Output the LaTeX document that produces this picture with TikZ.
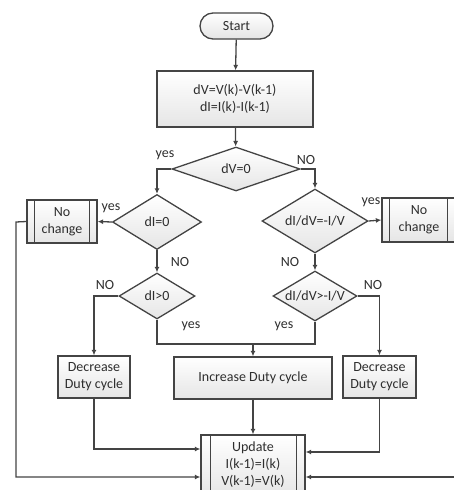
\documentclass[tikz,border=0pt]{standalone}
\usepackage{fontspec}
\setmainfont{Carlito}
\usetikzlibrary{shapes.geometric,arrows.meta}
\definecolor{ln}{HTML}{444444}
\definecolor{tx}{HTML}{2E2E2E}
\begin{document}
\begin{tikzpicture}[x=1pt,y=-1pt,
  every node/.style={font=\fontsize{14}{17}\selectfont, text=tx},
  box/.style={draw=ln, line width=1.3pt, top color=white, bottom color=gray!20, inner sep=0pt, align=center},
  dec/.style={box, diamond, aspect=2, inner sep=-4pt},
  lbl/.style={font=\fontsize{14}{15}\selectfont, text=tx},
  ar/.style={draw=ln, line width=1.3pt, -{Latex[length=5.5pt,width=5pt]}},
  ln/.style={draw=ln, line width=1.3pt}
]
\useasboundingbox (0,0) rectangle (454,490);
\clip (0,0) rectangle (454,490);
% nodes
\node[box, rounded corners=13pt, minimum width=73pt, minimum height=26pt] (start) at (236.5,26) {Start};
\node[box, minimum width=156pt, minimum height=56pt] (calc) at (235,99) {dV=V(k)-V(k-1)\\dI=I(k)-I(k-1)};
\node[dec, minimum width=128pt, minimum height=44pt] (d1) at (236,169) {dV=0};
\node[dec, minimum width=89pt, minimum height=55pt] (d2) at (157,222) {dI=0};
\node[dec, minimum width=106pt, minimum height=64pt] (d3) at (315,221) {dI/dV=-I/V};
\node[dec, minimum width=76pt, minimum height=46pt] (d4) at (157,296) {dI>0};
\node[dec, minimum width=84pt, minimum height=50pt] (d5) at (315,296) {dI/dV>-I/V};
\node[box, minimum width=70pt, minimum height=43pt] (ncl) at (62,221.5) {No\\change};
\draw[ln] ([xshift=8pt]ncl.north west) -- ([xshift=8pt]ncl.south west);
\draw[ln] ([xshift=-8pt]ncl.north east) -- ([xshift=-8pt]ncl.south east);
\node[box, minimum width=74pt, minimum height=44pt] (ncr) at (419,220) {No\\change};
\draw[ln] ([xshift=8pt]ncr.north west) -- ([xshift=8pt]ncr.south west);
\draw[ln] ([xshift=-9pt]ncr.north east) -- ([xshift=-9pt]ncr.south east);
\node[box, minimum width=72pt, minimum height=42pt] (decl) at (94,377) {Decrease\\Duty cycle};
\node[box, minimum width=158pt, minimum height=42pt] (inc) at (253,378) {Increase Duty cycle};
\node[box, minimum width=73pt, minimum height=42pt] (decr) at (379.5,377) {Decrease\\Duty cycle};
\node[box, minimum width=104pt, minimum height=60pt] (upd) at (253,465) {Update\\I(k-1)=I(k)\\V(k-1)=V(k)};
\draw[ln] ([xshift=10pt]upd.north west) -- ([xshift=10pt]upd.south west);
\draw[ln] ([xshift=-9pt]upd.north east) -- ([xshift=-9pt]upd.south east);
% connectors
\draw[ar] (start) -- (calc);
\draw[ar] (calc) -- (d1);
\draw[ar] (d1.west) -| (d2.north);
\draw[ar] (d1.east) -| (d3.north);
\draw[ar] (d2.west) -- (ncl.east);
\draw[ar] (d3.east) -- (ncr.west);
\draw[ar] (d2.south) -- (d4.north);
\draw[ar] (d3.south) -- (d5.north);
\draw[ar] (d4.west) -| (decl.north);
\draw[ar] (d5.east) -| (decr.north);
\coordinate (m) at (inc.north |- 0,344);
\draw[ln] (d4.south) |- (m) -| (d5.south);
\draw[ar] (m) -- (inc.north);
\draw[ar] (inc) -- (upd);
\draw[ar] (decl.south) |- ([yshift=16pt]upd.west);
\draw[ar] (decr.south) |- ([yshift=13pt]upd.east);
\coordinate (lc) at (16,222);
\draw[ar] (ncl.west) -- (lc) |- ([yshift=-12pt]upd.west);
\coordinate (rc) at (470,220);
\draw[ar] (ncr.east) -- (rc) |- ([yshift=-12pt]upd.east);
% labels
\node[lbl] at (165,155) {yes};
\node[lbl] at (306,160) {NO};
\node[lbl] at (111,208) {yes};
\node[lbl] at (371,202) {yes};
\node[lbl] at (180,262) {NO};
\node[lbl] at (290,262) {NO};
\node[lbl] at (105,285) {NO};
\node[lbl] at (373,285) {NO};
\node[lbl] at (191,326) {yes};
\node[lbl] at (284,326) {yes};
\end{tikzpicture}
\end{document}
